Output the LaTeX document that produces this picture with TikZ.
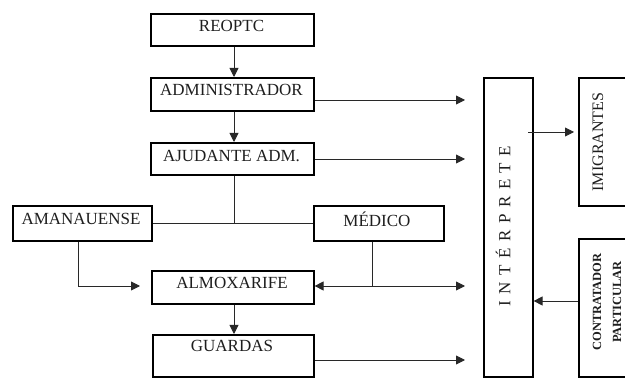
\documentclass[tikz,border=0pt]{standalone}
\usepackage{fontspec}
\setmainfont{Liberation Serif}
\usetikzlibrary{arrows.meta}
\definecolor{txt}{RGB}{30,30,30}
\definecolor{ln}{RGB}{40,40,40}
\tikzset{
  box/.style={draw=black, line width=1.6pt, rectangle, inner sep=0pt, anchor=north west},
  lbl/.style={text=txt, inner sep=0pt, font=\fontsize{17}{20}\selectfont},
  conn/.style={draw=ln, line width=0.9pt},
  arr/.style={conn, -{Triangle[length=9pt,width=9pt]}},
}
\newcommand{\gapL}{\hspace{6.5pt}}
\begin{document}
\begin{tikzpicture}[x=1pt,y=-1pt]
\useasboundingbox (0,0) rectangle (625,379);
\clip (0,0) rectangle (625,379);
% boxes
\node[box, minimum width=163pt, minimum height=32pt] (reop) at (150,13) {};
\node[box, minimum width=163pt, minimum height=33pt] (adm) at (150,77) {};
\node[box, minimum width=163pt, minimum height=32pt] (ajd) at (150,142) {};
\node[box, minimum width=139pt, minimum height=35pt] (ama) at (12,205) {};
\node[box, minimum width=130pt, minimum height=35pt] (med) at (313,205) {};
\node[box, minimum width=162pt, minimum height=33pt] (alm) at (151,270) {};
\node[box, minimum width=161pt, minimum height=42.5pt] (gua) at (152,334) {};
\node[box, minimum width=49pt, minimum height=299.5pt] (int) at (483,77) {};
\node[box, minimum width=60pt, minimum height=128pt] (imi) at (578,77) {};
\node[box, minimum width=60pt, minimum height=138.5pt] (con) at (578,238) {};
% labels
\node[lbl] (treop) at (231.5,26) {REOPTC};
\node[lbl] (tadm) at (231.5,90) {ADMINISTRADOR};
\node[lbl] (tajd) at (231.5,156) {AJUDANTE ADM.};
\node[lbl] (tama) at (81,219) {AMANAUENSE};
\node[lbl] (tmed) at (377,219) {MÉDICO};
\node[lbl] (talm) at (232,283) {ALMOXARIFE};
\node[lbl] (tgua) at (232,346) {GUARDAS};
\node[lbl, rotate=90] (tint) at (503,226) {I\gapL N\gapL T\gapL É\gapL R\gapL P\gapL R\gapL E\gapL T\gapL E};
\node[lbl, rotate=90, font=\fontsize{16}{19}\selectfont] (timi) at (598,142) {IMIGRANTES};
\node[lbl, rotate=90, align=center, font=\fontsize{12.5}{20}\selectfont\bfseries] (tcon) at (607,302) {CONTRATADOR\\PARTICULAR};
% free ends
\coordinate (e1) at (465,100);
\coordinate (e2) at (465,159);
\coordinate (e3) at (465,286);
\coordinate (e4) at (465,360);
\coordinate (e5) at (140,286);
\coordinate (jn) at (234,223);
% connectors
\draw[arr] (reop.south -| 234,0) -- (adm.north -| 234,0);
\draw[arr] (adm.south -| 234,0) -- (ajd.north -| 234,0);
\draw[conn] (ajd.south -| 234,0) -- (jn);
\draw[conn] (ama.east) -- (med.west);
\draw[arr] (ama.south -| 78,0) |- (e5);
\draw[conn] (med.south -| 372,0) -- (372,286);
\draw[arr] (372,286) -- (alm.east |- 0,286);
\draw[arr] (372,286) -- (e3);
\draw[arr] (alm.south -| 234,0) -- (gua.north -| 234,0);
\draw[arr] (adm.east |- 0,100) -- (e1);
\draw[arr] (ajd.east |- 0,159) -- (e2);
\draw[arr] (gua.east |- 0,360) -- (e4);
\draw[arr] (528,132) -- ([xshift=-4pt]imi.west |- 0,132);
\draw[arr] (con.west |- 0,301) -- (int.east |- 0,301);
\end{tikzpicture}
\end{document}
